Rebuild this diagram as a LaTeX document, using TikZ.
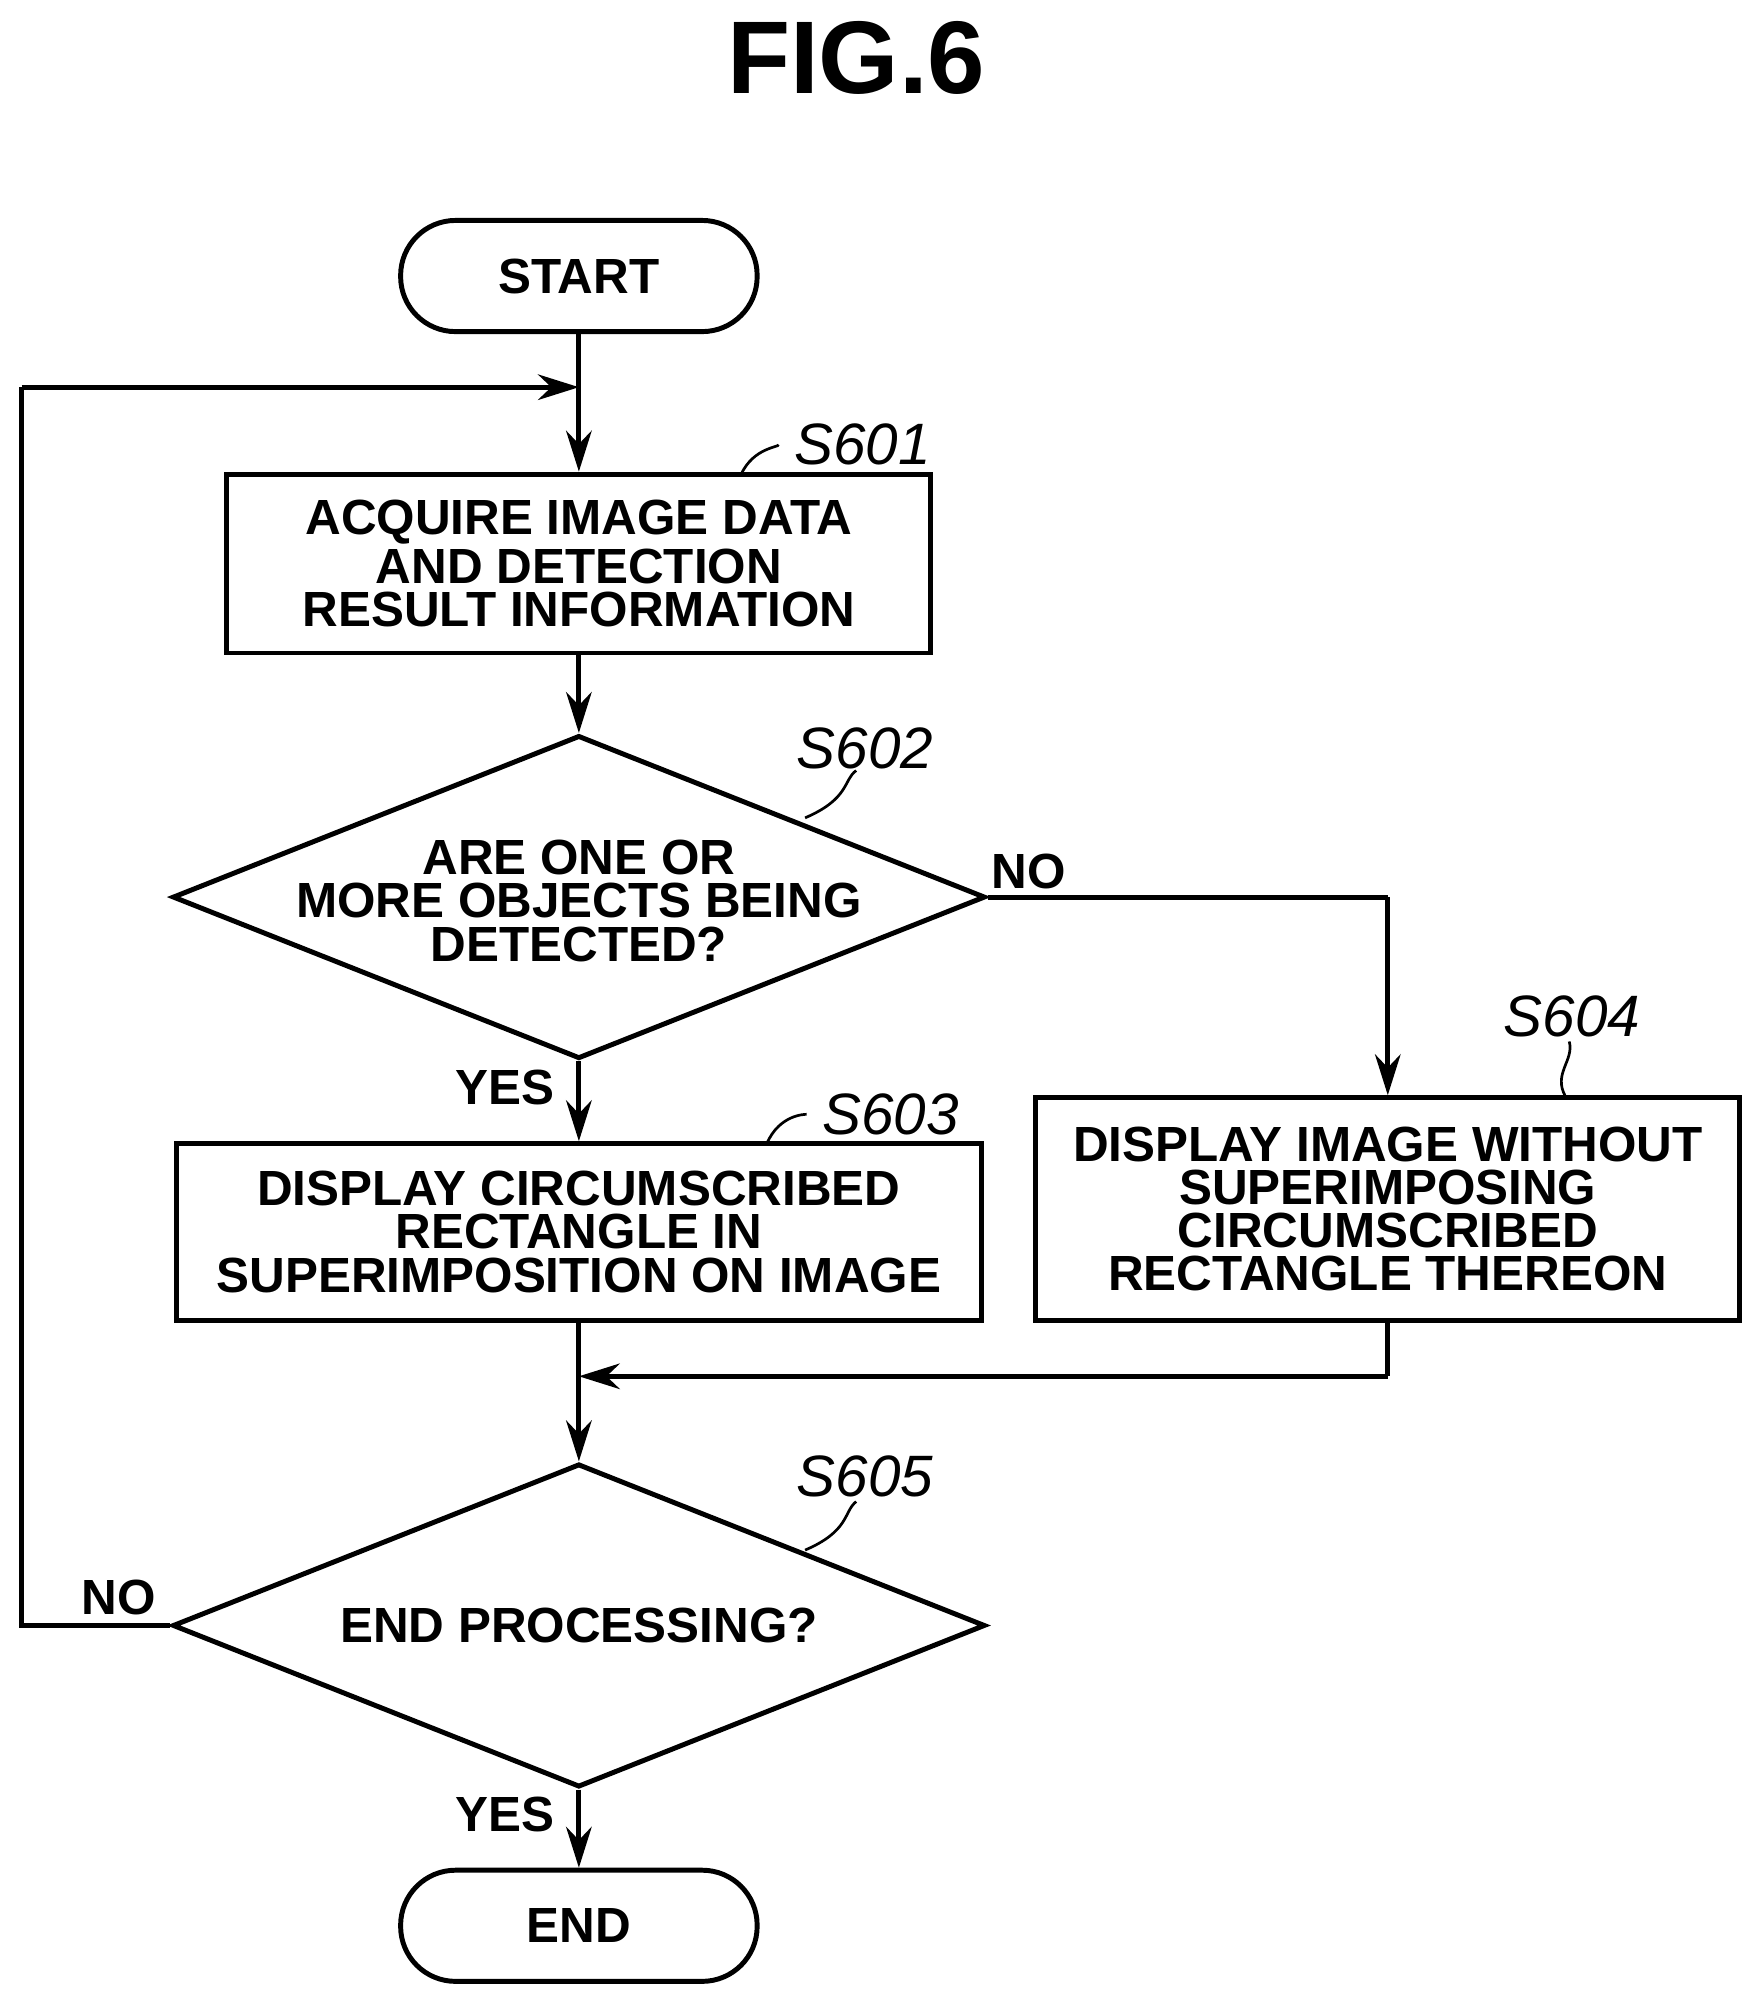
\documentclass[tikz,border=0pt]{standalone}
\usepackage{fontspec}
\setmainfont{Liberation Sans}
\usetikzlibrary{shapes.geometric,arrows.meta}
\tikzset{
  box/.style={draw=black,line width=1.1pt,align=center,inner sep=0pt,font=\bfseries\fontsize{11}{9.6}\selectfont},
  term/.style={box,rounded corners=4.3mm},
  dec/.style={draw=black,line width=1.1pt,shape=diamond,inner sep=0pt,minimum width=63.6mm,minimum height=25.3mm,aspect=2.5},
  dtext/.style={align=center,font=\bfseries\fontsize{11}{9.6}\selectfont},
  lbl/.style={font=\itshape\fontsize{13}{13}\selectfont},
  yn/.style={font=\bfseries\fontsize{11}{11}\selectfont},
  flow/.style={line width=1.1pt,-{Stealth[length=3.2mm,width=2mm]}},
  wire/.style={line width=1.1pt},
  sq/.style={line width=0.6pt}
}
\begin{document}
\begin{tikzpicture}[x=0.1mm,y=-0.1mm]
\useasboundingbox (0,0) rectangle (1380,1569);
\node[font=\bfseries\fontsize{23}{23}\selectfont] (title) at (670,45) {FIG.6};
\node[term,minimum width=27.9mm,minimum height=8.7mm] (start) at (453,216) {START};
\node[box,minimum width=55.1mm,minimum height=14mm] (s601) at (453,441) {ACQUIRE IMAGE DATA\\AND DETECTION\\RESULT INFORMATION};
\node[dec] (s602) at (453,702) {};
\node[dtext] (t602) at (453,705) {ARE ONE OR\\MORE OBJECTS BEING\\DETECTED?};
\node[box,minimum width=63mm,minimum height=13.8mm] (s603) at (453,964) {DISPLAY CIRCUMSCRIBED\\RECTANGLE IN\\SUPERIMPOSITION ON IMAGE};
\node[box,minimum width=55.1mm,minimum height=17.4mm] (s604) at (1086,946) {DISPLAY IMAGE WITHOUT\\SUPERIMPOSING\\CIRCUMSCRIBED\\RECTANGLE THEREON};
\node[dec] (s605) at (453,1272) {};
\node[dtext] (t605) at (453,1272) {END PROCESSING?};
\node[term,minimum width=27.9mm,minimum height=8.7mm] (end) at (453,1507) {END};

\node[lbl] (l601) at (675,348) {S601};
\node[lbl] (l602) at (677,586) {S602};
\node[lbl] (l603) at (697,872) {S603};
\node[lbl] (l604) at (1230,795) {S604};
\node[lbl] (l605) at (677,1155) {S605};
\node[yn] (no1) at (805,682) {NO};
\node[yn] (yes1) at (395,851) {YES};
\node[yn] (no2) at (93,1250) {NO};
\node[yn] (yes2) at (395,1420) {YES};

\coordinate (loopA) at (17,1272);
\coordinate (loopB) at (17,303);
\coordinate (loopC) at (453,303);
\coordinate (noA) at (1086,702);
\coordinate (mA) at (1086,1077);
\coordinate (mB) at (453,1077);

\draw[flow] (start) -- (s601);
\draw[flow] (s601) -- (s602);
\draw[flow] (s602) -- (s603);
\draw[wire] (s602.east) -- (noA);
\draw[flow] (noA) -- (s604);
\draw[flow] (s603) -- (s605);
\draw[wire] (s604.south) -- (mA);
\draw[flow] (mA) -- (mB);
\draw[flow] (s605) -- (end);
\draw[wire] (s605.west) -- (loopA) -- (loopB);
\draw[flow] (loopB) -- (loopC);

\draw[sq] (580,371) .. controls (590,350) and (610,350) .. (l601.west);
\draw[sq] (630,640) .. controls (665,625) and (660,610) .. (670,603);
\draw[sq] (600,895) .. controls (610,872) and (630,872) .. (l603.west);
\draw[sq] (1225,858) .. controls (1215,840) and (1232,830) .. (1228,815);
\draw[sq] (630,1213) .. controls (665,1198) and (660,1183) .. (670,1175);
\end{tikzpicture}
\end{document}
